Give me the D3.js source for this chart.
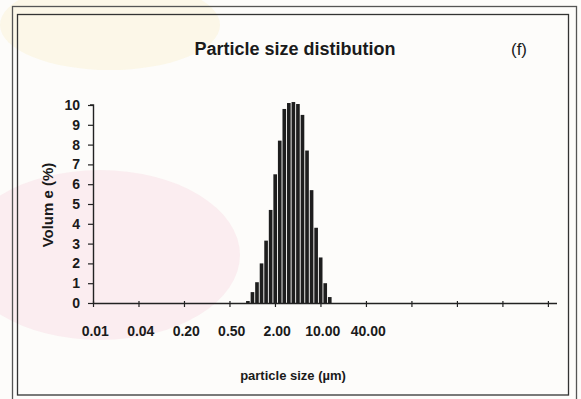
<!DOCTYPE html>
<html>
<head>
<meta charset="utf-8">
<script src="https://cdn.jsdelivr.net/npm/d3@7"></script>
<style>
  body { margin: 0; background: #fff; }
  text { font-family: "Liberation Sans", Arial, sans-serif; fill: #1a1a1a; }
</style>
</head>
<body>
<div id="viz"></div>
<script>
// data: volume (%) per size class (log bins, 102 classes)
var binCount = 102;
var binIndex = [33, 34, 35, 36, 37, 38, 39, 40, 41, 42, 43, 44, 45, 46, 47, 48, 49, 50, 51];
var volume   = [0.1, 0.55, 1.05, 2.0, 3.15, 4.7, 6.5, 8.2, 9.8, 10.1, 10.15, 10.05, 9.5, 7.7, 5.7, 3.8, 2.3, 1.0, 0.3];
var tickLabels = ["0.01", "0.04", "0.20", "0.50", "2.00", "10.00", "40.00"];
var tickBins = [0, 10, 20, 30, 40, 50, 60];
var markBins = [0, 10, 20, 30, 40, 50, 60, 70, 80, 90, 100];
var yTicks = [0, 1, 2, 3, 4, 5, 6, 7, 8, 9, 10];

var w = 581, h = 399;
var plotLeft = 93, plotRight = 557, plotTop = 105, plotBottom = 303;

var svg = d3.select("#viz")
  .append("svg")
    .attr("width", w)
    .attr("height", h);

// faint scan tints behind the chart
svg.append("rect")
  .attr("x", 0).attr("y", 0).attr("width", w).attr("height", h)
  .style("fill", "#fdfcfa");
svg.append("ellipse")
  .attr("cx", 100).attr("cy", 255).attr("rx", 140).attr("ry", 85)
  .style("fill", "#fae7eb").style("opacity", 0.7);
svg.append("ellipse")
  .attr("cx", 110).attr("cy", 25).attr("rx", 110).attr("ry", 45)
  .style("fill", "#fbf5e0").style("opacity", 0.7);

// frames
svg.append("rect")
  .attr("x", 12.5).attr("y", 6.5).attr("width", 564).attr("height", 400)
  .style("fill", "none").style("stroke", "#555").style("stroke-width", 1.3);
svg.append("rect")
  .attr("x", 17.5).attr("y", 14.5).attr("width", 551).attr("height", 380.5)
  .style("fill", "none").style("stroke", "#333").style("stroke-width", 1.3);

var x = d3.scaleBand()
  .domain(d3.range(binCount))
  .range([plotLeft, plotRight])
  .paddingInner(0.2)
  .paddingOuter(0.1);

// bars sit a little right of the label positions in the original
var xBar = x.copy().range([plotLeft + 2.5, plotRight + 2.5]);

var xEdge = d3.scaleLinear()
  .domain([0, binCount])
  .range([plotLeft, plotRight]);

var y = d3.scaleLinear()
  .domain([0, 10])
  .range([plotBottom, plotTop]);

var g = svg.append("g");

// bars
g.selectAll("rect.bar")
  .data(volume)
  .enter().append("rect")
    .attr("class", "bar")
    .attr("x", function(d, i){ return xBar(binIndex[i]); })
    .attr("width", xBar.bandwidth())
    .attr("y", function(d){ return y(d); })
    .attr("height", function(d){ return y(0) - y(d); })
    .style("fill", "#1e1e1e");

// y axis
var yAxis = g.append("g")
  .attr("transform", "translate(" + plotLeft + ",0)")
  .call(d3.axisLeft(y).tickValues(yTicks).tickSize(5).tickPadding(8));
yAxis.select(".domain").attr("d", "M-3," + plotTop + "H0.5V" + plotBottom).style("stroke", "#222").style("stroke-width", 1.4);
yAxis.selectAll(".tick line").style("stroke", "#222").style("stroke-width", 1.2);
yAxis.selectAll("text").style("font-size", "14px").style("font-weight", "bold").style("fill", "#1a1a1a");

// x axis tick marks at class boundaries
var xMarks = g.append("g")
  .attr("transform", "translate(0," + plotBottom + ")")
  .call(d3.axisBottom(xEdge).tickValues(markBins).tickSize(4).tickFormat(""));
xMarks.select(".domain").attr("d", "M" + plotLeft + ",0.5H" + plotRight).style("stroke", "#222").style("stroke-width", 1.4);
xMarks.selectAll(".tick line").attr("y1", -2).style("stroke", "#222").style("stroke-width", 1.2);

// x labels centred on size class
var xLabels = g.append("g")
  .attr("transform", "translate(0," + plotBottom + ")")
  .call(d3.axisBottom(x).tickValues(tickBins).tickSize(0).tickPadding(23)
    .tickFormat(function(d, i){ return tickLabels[i]; }));
xLabels.select(".domain").remove();
xLabels.selectAll("text").style("font-size", "14px").style("font-weight", "bold").style("fill", "#1a1a1a");

// titles
svg.append("text")
  .attr("x", 295).attr("y", 55)
  .attr("text-anchor", "middle")
  .style("font-size", "18px").style("font-weight", "bold")
  .text("Particle size distibution");

svg.append("text")
  .attr("x", 519).attr("y", 55)
  .attr("text-anchor", "middle")
  .style("font-size", "17px")
  .text("(f)");

svg.append("text")
  .attr("transform", "translate(53,205) rotate(-90)")
  .attr("text-anchor", "middle")
  .style("font-size", "15px").style("font-weight", "bold")
  .text("Volum e (%)");

svg.append("text")
  .attr("x", 293).attr("y", 380)
  .attr("text-anchor", "middle")
  .style("font-size", "13px").style("font-weight", "bold")
  .text("particle size (µm)");
</script>
</body>
</html>
